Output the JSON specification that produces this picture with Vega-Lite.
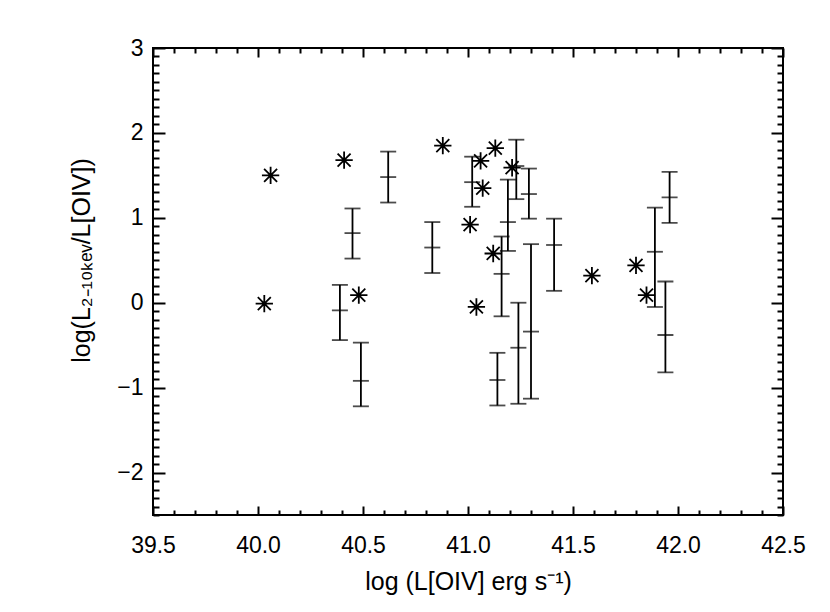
{
  "$schema": "https://vega.github.io/schema/vega-lite/v6.json",
  "autosize": "none",
  "width": 630,
  "height": 467,
  "padding": {"left": 153, "top": 48, "right": 47, "bottom": 97},
  "background": "white",
  "config": {
    "view": {"stroke": "black", "strokeWidth": 2},
    "axis": {"labelFont": "Liberation Sans", "titleFont": "Liberation Sans", "labelColor": "black", "titleColor": "black", "labelFontSize": 23, "titleFontSize": 25, "titleFontWeight": "normal", "domain": false, "grid": false, "tickColor": "black", "tickWidth": 2}
  },
  "datasets": {
    "stars": [
      {"x": 40.06, "y": 1.50}, {"x": 40.03, "y": -0.01}, {"x": 40.41, "y": 1.68},
      {"x": 40.48, "y": 0.09}, {"x": 40.88, "y": 1.85}, {"x": 41.01, "y": 0.92},
      {"x": 41.06, "y": 1.67}, {"x": 41.07, "y": 1.35}, {"x": 41.13, "y": 1.82},
      {"x": 41.21, "y": 1.59}, {"x": 41.12, "y": 0.58}, {"x": 41.04, "y": -0.05},
      {"x": 41.59, "y": 0.32}, {"x": 41.80, "y": 0.44}, {"x": 41.85, "y": 0.09}
    ],
    "bars": [
      {"x": 40.62, "y": 1.48, "lo": 1.18, "hi": 1.78},
      {"x": 40.45, "y": 0.82, "lo": 0.52, "hi": 1.11},
      {"x": 40.83, "y": 0.65, "lo": 0.35, "hi": 0.95},
      {"x": 40.39, "y": -0.09, "lo": -0.44, "hi": 0.21},
      {"x": 40.49, "y": -0.92, "lo": -1.22, "hi": -0.47},
      {"x": 41.02, "y": 1.42, "lo": 1.13, "hi": 1.72},
      {"x": 41.23, "y": 1.61, "lo": 1.22, "hi": 1.92},
      {"x": 41.29, "y": 1.28, "lo": 0.99, "hi": 1.58},
      {"x": 41.19, "y": 0.95, "lo": 0.61, "hi": 1.45},
      {"x": 41.16, "y": 0.34, "lo": -0.16, "hi": 0.78},
      {"x": 41.41, "y": 0.68, "lo": 0.14, "hi": 0.99},
      {"x": 41.30, "y": -0.34, "lo": -1.13, "hi": 0.69},
      {"x": 41.24, "y": -0.53, "lo": -1.19, "hi": 0.00},
      {"x": 41.14, "y": -0.91, "lo": -1.21, "hi": -0.59},
      {"x": 41.89, "y": 0.60, "lo": -0.05, "hi": 1.12},
      {"x": 41.96, "y": 1.24, "lo": 0.94, "hi": 1.54},
      {"x": 41.94, "y": -0.38, "lo": -0.82, "hi": 0.25}
    ]
  },
  "resolve": {"axis": {"x": "independent", "y": "independent"}},
  "layer": [
    {
      "data": {"name": "stars"},
      "mark": {"type": "point", "shape": "M0,-1L0,1M-1,0L1,0M-0.75,-0.75L0.75,0.75M-0.75,0.75L0.75,-0.75", "filled": false, "stroke": "black", "strokeWidth": 1.8, "size": 300, "opacity": 1},
      "encoding": {
        "x": {"field": "x", "type": "quantitative",
          "scale": {"domain": [39.5, 42.5], "nice": false, "zero": false},
          "axis": {"orient": "bottom", "title": "log (L[OIV] erg s⁻¹)", "titlePadding": 8,
            "values": [39.5,39.6,39.7,39.8,39.9,40.0,40.1,40.2,40.3,40.4,40.5,40.6,40.7,40.8,40.9,41.0,41.1,41.2,41.3,41.4,41.5,41.6,41.7,41.8,41.9,42.0,42.1,42.2,42.3,42.4,42.5],
            "labelExpr": "abs(datum.value*2 - round(datum.value*2)) < 0.001 ? format(datum.value, '.1f') : ''",
            "tickSize": {"condition": {"test": "abs(datum.value*2 - round(datum.value*2)) < 0.001", "value": -9}, "value": -5},
            "labelPadding": 28, "labelFlush": false, "labelOverlap": false}},
        "y": {"field": "y", "type": "quantitative",
          "scale": {"domain": [-2.5, 3], "nice": false, "zero": false},
          "axis": {"orient": "left", "title": "log(L₂₋₁₀ₖₑᵥ/L[OIV])", "titlePadding": 22, "titleY": 212,
            "values": [-2.5,-2.4,-2.3,-2.2,-2.1,-2.0,-1.9,-1.8,-1.7,-1.6,-1.5,-1.4,-1.3,-1.2,-1.1,-1.0,-0.9,-0.8,-0.7,-0.6,-0.5,-0.4,-0.3,-0.2,-0.1,0.0,0.1,0.2,0.3,0.4,0.5,0.6,0.7,0.8,0.9,1.0,1.1,1.2,1.3,1.4,1.5,1.6,1.7,1.8,1.9,2.0,2.1,2.2,2.3,2.4,2.5,2.6,2.7,2.8,2.9,3.0],
            "labelExpr": "abs(datum.value - round(datum.value)) < 0.001 ? format(round(datum.value), 'd') : ''",
            "tickSize": {"condition": {"test": "abs(datum.value - round(datum.value)) < 0.001", "value": -12}, "value": -6},
            "labelPadding": 22, "labelFlush": false, "labelOverlap": false}}
      }
    },
    {
      "data": {"name": "bars"},
      "mark": {"type": "rule", "color": "black", "strokeWidth": 1.8},
      "encoding": {
        "x": {"field": "x", "type": "quantitative",
          "axis": {"orient": "top", "title": null, "labels": false,
            "values": [39.5,39.6,39.7,39.8,39.9,40.0,40.1,40.2,40.3,40.4,40.5,40.6,40.7,40.8,40.9,41.0,41.1,41.2,41.3,41.4,41.5,41.6,41.7,41.8,41.9,42.0,42.1,42.2,42.3,42.4,42.5],
            "tickSize": {"condition": {"test": "abs(datum.value*2 - round(datum.value*2)) < 0.001", "value": -9}, "value": -5}}},
        "y": {"field": "lo", "type": "quantitative",
          "axis": {"orient": "right", "title": null, "labels": false,
            "values": [-2.5,-2.4,-2.3,-2.2,-2.1,-2.0,-1.9,-1.8,-1.7,-1.6,-1.5,-1.4,-1.3,-1.2,-1.1,-1.0,-0.9,-0.8,-0.7,-0.6,-0.5,-0.4,-0.3,-0.2,-0.1,0.0,0.1,0.2,0.3,0.4,0.5,0.6,0.7,0.8,0.9,1.0,1.1,1.2,1.3,1.4,1.5,1.6,1.7,1.8,1.9,2.0,2.1,2.2,2.3,2.4,2.5,2.6,2.7,2.8,2.9,3.0],
            "tickSize": {"condition": {"test": "abs(datum.value - round(datum.value)) < 0.001", "value": -12}, "value": -6}}},
        "y2": {"field": "hi"}
      }
    },
    {
      "data": {"name": "bars"},
      "mark": {"type": "tick", "orient": "horizontal", "color": "black", "size": 16, "thickness": 1.8},
      "encoding": {
        "x": {"field": "x", "type": "quantitative", "axis": null},
        "y": {"field": "lo", "type": "quantitative", "axis": null}
      }
    },
    {
      "data": {"name": "bars"},
      "mark": {"type": "tick", "orient": "horizontal", "color": "black", "size": 16, "thickness": 1.8},
      "encoding": {
        "x": {"field": "x", "type": "quantitative", "axis": null},
        "y": {"field": "hi", "type": "quantitative", "axis": null}
      }
    },
    {
      "data": {"name": "bars"},
      "mark": {"type": "tick", "orient": "horizontal", "color": "black", "size": 16, "thickness": 1.8},
      "encoding": {
        "x": {"field": "x", "type": "quantitative", "axis": null},
        "y": {"field": "y", "type": "quantitative", "axis": null}
      }
    },
    {
      "mark": {"type": "rule", "color": "black", "strokeWidth": 1.3, "strokeDash": [10, 3, 2, 3]},
      "encoding": {"y": {"datum": 1, "type": "quantitative", "axis": null}}
    }
  ]
}
